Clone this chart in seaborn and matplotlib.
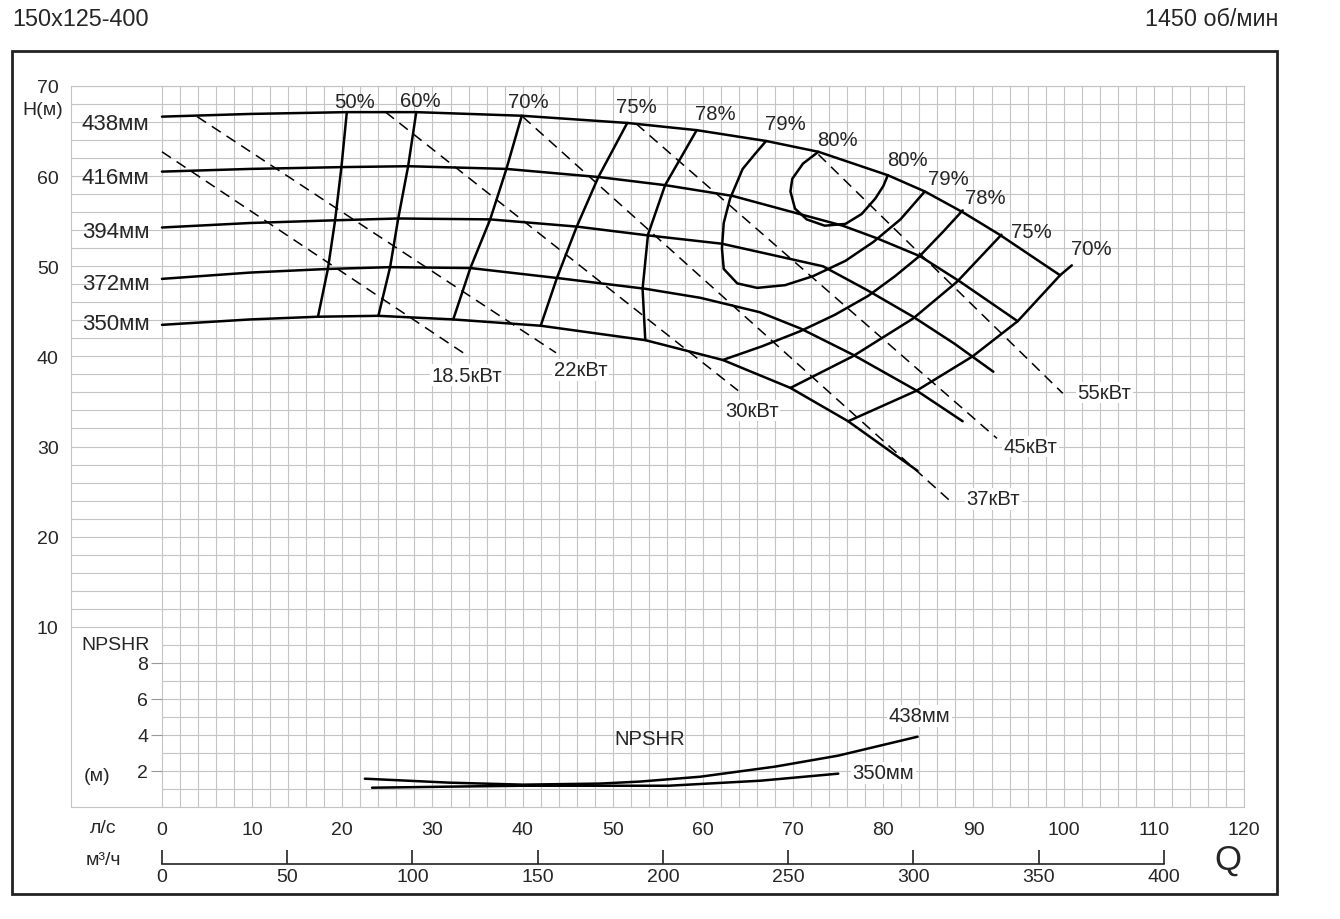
import numpy as np
import matplotlib
matplotlib.use("Agg")
import matplotlib.pyplot as plt
import seaborn as sns

sns.set_style("white")
plt.rcParams["font.family"] = ["Liberation Sans", "DejaVu Sans"]

title_left = "150x125-400"
title_right = "1450 об/мин"

# напорные кривые: Q (л/с), H (м)
q_438 = [0, 9.8, 20.5, 28.2, 39.9, 51.6, 59.3, 67.0, 72.8, 80.5, 84.6, 88.8, 92.9, 99.6]
h_438 = [66.6, 66.9, 67.1, 67.1, 66.7, 65.9, 65.1, 63.9, 62.7, 60.1, 58.3, 56.0, 53.5, 49.0]
q_416 = [0, 9.8, 19.9, 27.3, 38.2, 48.4, 55.8, 63.3, 75.5, 79.3, 84.1, 88.5, 94.9]
h_416 = [60.5, 60.8, 61.0, 61.1, 60.8, 59.9, 59.0, 57.8, 54.5, 53.1, 51.1, 48.3, 43.9]
q_394 = [0, 9.8, 19.2, 26.2, 36.4, 46.0, 54.1, 62.1, 73.3, 78.3, 83.3, 87.9, 92.2]
h_394 = [54.3, 54.8, 55.1, 55.3, 55.2, 54.4, 53.4, 52.5, 50.0, 47.3, 44.4, 41.4, 38.3]
q_372 = [0, 9.8, 18.4, 25.3, 34.2, 43.8, 53.6, 59.7, 66.3, 70.8, 76.6, 83.7, 88.8]
h_372 = [48.6, 49.3, 49.7, 49.9, 49.8, 48.7, 47.5, 46.5, 44.9, 43.1, 40.2, 36.2, 32.8]
q_350 = [0, 9.8, 17.3, 24.0, 32.3, 42.0, 53.6, 62.2, 69.7, 76.1, 83.8]
h_350 = [43.5, 44.1, 44.4, 44.5, 44.1, 43.4, 41.8, 39.6, 36.5, 32.8, 27.3]
diameters = ["438мм", "416мм", "394мм", "372мм", "350мм"]

# линии КПД
eff50_q = [17.3, 18.4, 19.2, 19.9, 20.5]
eff50_h = [44.4, 49.7, 55.1, 61.0, 67.1]
eff60_q = [24.0, 25.3, 26.2, 27.3, 28.2]
eff60_h = [44.5, 49.9, 55.3, 61.1, 67.1]
eff70_q = [32.3, 34.2, 36.4, 38.2, 39.9]
eff70_h = [44.1, 49.8, 55.2, 60.8, 66.7]
eff75_q = [42.0, 43.8, 46.0, 48.4, 51.6]
eff75_h = [43.4, 48.7, 54.4, 59.9, 65.9]
eff78_q = [53.6, 53.3, 53.9, 55.8, 59.3]
eff78_h = [41.8, 47.5, 53.5, 59.0, 65.1]
eff79_q = [67.0, 65.8, 64.4, 63.0, 62.3, 62.1, 62.3, 63.8, 66.0, 69.1, 72.2, 75.8, 78.9, 81.9, 84.6]
eff79_h = [63.9, 62.5, 60.8, 57.5, 54.8, 52.0, 49.7, 48.1, 47.6, 47.9, 48.9, 50.6, 52.7, 55.2, 58.3]
eff80_q = [72.8, 71.1, 69.9, 69.7, 70.2, 71.5, 73.5, 75.8, 77.6, 79.1, 80.0, 80.5]
eff80_h = [62.7, 61.4, 59.7, 58.3, 56.4, 55.2, 54.5, 54.7, 55.8, 57.5, 58.9, 60.1]
eff78r_q = [88.8, 86.6, 84.1, 81.3, 78.3, 74.6, 70.8, 66.5, 62.2]
eff78r_h = [56.2, 53.8, 51.2, 48.9, 46.7, 44.6, 42.8, 41.1, 39.6]
eff75r_q = [93.1, 88.2, 83.3, 76.6, 69.7]
eff75r_h = [53.5, 48.3, 44.2, 40.0, 36.5]
eff70r_q = [100.9, 99.6, 94.9, 89.9, 83.7, 76.1]
eff70r_h = [50.1, 49.0, 43.9, 40.0, 36.2, 32.8]
eff_labels = ["50%", "60%", "70%", "75%", "78%", "79%", "80%",
              "80%", "79%", "78%", "75%", "70%"]

# линии мощности (кВт)
p185_q, p185_h = [0.0, 33.4], [62.7, 40.4]
p22_q, p22_h = [3.9, 43.7], [66.6, 40.4]
p30_q, p30_h = [24.8, 63.9], [67.1, 36.2]
p37_q, p37_h = [40.0, 87.7], [66.6, 23.7]
p45_q, p45_h = [52.6, 92.6], [65.8, 30.9]
p55_q, p55_h = [72.8, 99.9], [62.4, 35.9]
power_labels = ["18.5кВт", "22кВт", "30кВт", "37кВт", "45кВт", "55кВт"]

# NPSHR (м)
npsh438_q = [22.5, 31.9, 40.0, 48.6, 53.0, 59.7, 68.0, 75.0, 83.8]
npsh438_n = [1.57, 1.35, 1.24, 1.30, 1.41, 1.68, 2.24, 2.85, 3.90]
npsh350_q = [23.3, 31.9, 40.0, 50.8, 56.2, 66.4, 75.0]
npsh350_n = [1.07, 1.13, 1.18, 1.18, 1.18, 1.46, 1.85]

ls_ticks = list(range(0, 121, 10))
m3h_ticks = list(range(0, 401, 50))
h_ticks = list(range(10, 71, 10))
npsh_ticks = [2, 4, 6, 8]


def h_of_npsh(n):
    return -10 + 2 * np.asarray(n)


fig = plt.figure(figsize=(13.4, 9.2), dpi=100)
ax = fig.add_axes([71 / 1340, 112 / 920, 1173 / 1340, 721 / 920])
ax.set_xlim(-10.09, 120)
ax.set_ylim(-10, 70)

# сетка
grid_c = "#c4c4c4"
ax.hlines(np.arange(10, 71, 2), -10.09, 120, color=grid_c, lw=0.8, zorder=0)
ax.hlines(np.arange(-8, 9, 2), 0, 120, color=grid_c, lw=0.8, zorder=0)
ax.vlines(np.arange(0, 121, 2), -10, 70, color=grid_c, lw=0.8, zorder=0)
for s in ax.spines.values():
    s.set_color(grid_c)
    s.set_linewidth(0.8)

solid = dict(color="black", lw=1.8, sort=False, estimator=None, ax=ax)
dashed = dict(color="black", lw=1.1, sort=False, estimator=None, ax=ax,
              linestyle=(0, (7, 4.5)))

for q, h in [(q_438, h_438), (q_416, h_416), (q_394, h_394),
             (q_372, h_372), (q_350, h_350)]:
    sns.lineplot(x=q, y=h, **solid)

for q, h in [(eff50_q, eff50_h), (eff60_q, eff60_h), (eff70_q, eff70_h),
             (eff75_q, eff75_h), (eff78_q, eff78_h), (eff79_q, eff79_h),
             (eff80_q, eff80_h), (eff78r_q, eff78r_h), (eff75r_q, eff75r_h),
             (eff70r_q, eff70r_h)]:
    sns.lineplot(x=q, y=h, **solid)

for q, h in [(p185_q, p185_h), (p22_q, p22_h), (p30_q, p30_h),
             (p37_q, p37_h), (p45_q, p45_h), (p55_q, p55_h)]:
    sns.lineplot(x=q, y=h, **dashed)

sns.lineplot(x=npsh438_q, y=h_of_npsh(npsh438_n), **solid)
sns.lineplot(x=npsh350_q, y=h_of_npsh(npsh350_n), **solid)
ax.set_xlabel("")
ax.set_ylabel("")

fs = 14.6
tfs = 14
white = dict(fc="white", ec="none", pad=1)
# подписи диаметров
for lab, y in zip(diameters, [65.8, 59.9, 53.9, 48.1, 43.6]):
    ax.text(-8.9, y, lab, fontsize=16, ha="left", va="center")

# подписи КПД
eff_pos = [(21.4, 68.3), (28.6, 68.4), (40.6, 68.3), (52.6, 67.7), (61.4, 66.9),
           (69.1, 65.8), (74.9, 64.1), (82.7, 61.8), (87.2, 59.7), (91.3, 57.6),
           (96.4, 53.9), (103.1, 52.0)]
for lab, (x, y) in zip(eff_labels, eff_pos):
    ax.text(x, y, lab, fontsize=fs, ha="center", va="center")

# подписи мощности
pw_pos = [(33.8, 37.9), (46.4, 38.5), (65.4, 34.0), (92.2, 24.2), (96.3, 30.0), (104.5, 36.0)]
for lab, (x, y) in zip(power_labels, pw_pos):
    ax.text(x, y, lab, fontsize=fs, ha="center", va="center", bbox=white)

ax.text(54.1, h_of_npsh(3.8), "NPSHR", fontsize=fs, ha="center", va="center")
ax.text(80.6, h_of_npsh(5.06), "438мм", fontsize=fs, ha="left", va="center", bbox=white)
ax.text(76.6, h_of_npsh(1.9), "350мм", fontsize=fs, ha="left", va="center", bbox=white)

# оси
ax.set_xticks(ls_ticks)
ax.set_yticks(h_ticks)
ax.tick_params(axis="x", direction="out", length=5, color="#999999",
               labelsize=tfs, pad=5)
ax.tick_params(axis="y", direction="out", length=7, color="#999999",
               labelsize=tfs, pad=2)
ax.text(-11.0, 67.4, "H(м)", fontsize=tfs, ha="right", va="center")

sec_y = ax.secondary_yaxis(10.09 / 130.09, functions=(lambda h: (h + 10) / 2,
                                                      lambda n: 2 * n - 10))
sec_y.set_yticks(npsh_ticks)
sec_y.tick_params(direction="out", length=8, color="#999999", labelsize=tfs, pad=2)
sec_y.spines["left"].set_visible(False)
ax.text(-5.2, 8.0, "NPSHR", fontsize=tfs, ha="center", va="center")
ax.text(-7.2, -6.5, "(м)", fontsize=tfs, ha="center", va="center")

sec_x = ax.secondary_xaxis(-6.27 / 80, functions=(lambda q: q * 3.6, lambda m: m / 3.6))
sec_x.set_xticks(m3h_ticks)
sec_x.tick_params(direction="in", length=10, width=1.2, color="#222222",
                  labelsize=tfs, pad=3)
sec_x.spines["bottom"].set_bounds(0, 400)
sec_x.spines["bottom"].set_linewidth(1.2)
sec_x.spines["bottom"].set_color("#222222")
ax.text(-6.5, -12.3, "л/с", fontsize=tfs, ha="center", va="center")
ax.text(-6.5, -15.8, "м³/ч", fontsize=tfs, ha="center", va="center")
ax.text(118.2, -15.8, "Q", fontsize=25, ha="center", va="center")

fig.text(12 / 1340, 1 - 20 / 920, title_left, fontsize=16.8, ha="left", va="center")
fig.text(1278 / 1340, 1 - 20 / 920, title_right, fontsize=16.8, ha="right", va="center")
fig.add_artist(plt.Rectangle((12 / 1340, 1 - 895 / 920), 1265 / 1340, 843 / 920,
                             fill=False, lw=2, ec="#222222", transform=fig.transFigure))

fig.savefig("out.png", dpi=100)
